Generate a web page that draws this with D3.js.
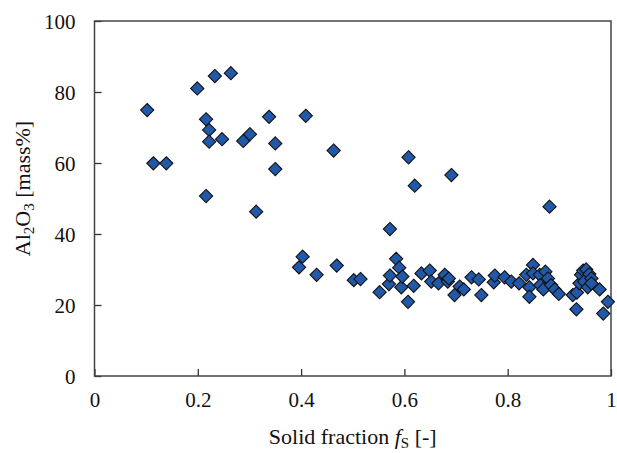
<!DOCTYPE html>
<html>
<head>
<meta charset="utf-8">
<script src="https://cdn.jsdelivr.net/npm/d3@7"></script>
<style>
  body { margin: 0; background: #fff; }
  svg text { font-family: "Liberation Serif", "DejaVu Serif", "Times New Roman", serif !important; fill: #111; }
</style>
</head>
<body>
<svg id="chart" width="617" height="453"></svg>
<script>
// solid fraction fS and Al2O3 content (mass%)
const fsValues = [
  0.102, 0.114, 0.139, 0.199, 0.216, 0.216, 0.222, 0.222, 0.233, 0.247,
  0.264, 0.288, 0.301, 0.313, 0.338, 0.350, 0.350, 0.396, 0.403, 0.409,
  0.430, 0.463, 0.469, 0.502, 0.515, 0.552, 0.570, 0.572, 0.572, 0.584,
  0.590, 0.594, 0.596, 0.607, 0.608, 0.618, 0.620, 0.633, 0.649, 0.652,
  0.666, 0.678, 0.684, 0.686, 0.691, 0.697, 0.707, 0.715, 0.730, 0.744,
  0.749, 0.773, 0.775, 0.794, 0.807, 0.822, 0.836, 0.842, 0.842, 0.849,
  0.849, 0.862, 0.863, 0.869, 0.873, 0.878, 0.881, 0.884, 0.891, 0.899,
  0.926, 0.933, 0.934, 0.939, 0.942, 0.946, 0.948, 0.952, 0.955, 0.958,
  0.962, 0.962, 0.978, 0.985, 0.994
];
const al2o3Values = [
  74.9, 59.9, 59.9, 81.0, 72.3, 50.7, 69.3, 66.0, 84.5, 66.7,
  85.3, 66.2, 68.1, 46.3, 73.0, 65.5, 58.3, 30.6, 33.6, 73.3,
  28.5, 63.5, 31.1, 27.0, 27.3, 23.6, 25.9, 41.4, 28.3, 33.0,
  30.5, 25.0, 28.0, 20.9, 61.6, 25.4, 53.6, 28.9, 29.7, 26.6,
  26.1, 28.5, 26.6, 27.5, 56.6, 22.8, 25.2, 24.4, 27.8, 27.2,
  22.8, 26.4, 28.3, 27.8, 26.6, 26.1, 28.5, 25.0, 22.3, 31.3,
  28.9, 28.5, 25.6, 24.4, 29.4, 27.5, 47.7, 25.6, 24.4, 23.1,
  22.8, 18.8, 23.5, 26.1, 28.5, 29.7, 26.6, 30.0, 25.0, 28.7,
  27.5, 26.1, 24.4, 17.6, 20.9
];
const xTicks = [0, 0.2, 0.4, 0.6, 0.8, 1];
const yTicks = [0, 20, 40, 60, 80, 100];

const points = fsValues.map((f, i) => ({ fs: f, al: al2o3Values[i] }));

const svg = d3.select("#chart");
const margin = { left: 94.5, right: 6, top: 21, bottom: 77 };
const width = 617 - margin.left - margin.right;
const height = 453 - margin.top - margin.bottom;

const x = d3.scaleLinear().domain([0, 1]).range([0, width]);
const y = d3.scaleLinear().domain([0, 100]).range([height, 0]);

const g = svg.append("g").attr("transform", `translate(${margin.left},${margin.top})`);

// ticks point inward
const xAxis = g.append("g")
    .attr("transform", `translate(0,${height})`)
    .call(d3.axisBottom(x).tickValues(xTicks).tickSize(-7).tickPadding(16)
        .tickFormat(d => d3.format("~g")(d)));
const yAxis = g.append("g")
    .call(d3.axisLeft(y).tickValues(yTicks).tickSize(-7).tickPadding(19));

[xAxis, yAxis].forEach(a => {
    a.attr("font-family", null);
    a.select(".domain").remove();
    a.selectAll("line").attr("stroke", "#333").attr("stroke-width", 1.3);
    a.selectAll("text")
        .style("font-size", "21px")
        .attr("fill", "#111");
});
xAxis.selectAll("text").attr("dy", "0.71em");
yAxis.selectAll("text").attr("dy", "0.35em");

// frame
g.append("rect")
    .attr("x", 0).attr("y", 0)
    .attr("width", width).attr("height", height)
    .attr("fill", "none")
    .attr("stroke", "#444")
    .attr("stroke-width", 1.5);

// diamonds
const r = 6.6;
const diamond = `M0,${-r}L${r},0L0,${r}L${-r},0Z`;
g.append("g").selectAll("path")
    .data(points)
    .join("path")
    .attr("d", diamond)
    .attr("transform", d => `translate(${x(d.fs)},${y(d.al)})`)
    .attr("fill", "#2258a8")
    .attr("stroke", "#111")
    .attr("stroke-width", 1.1);

// axis titles
const xTitle = svg.append("text")
    .attr("x", margin.left + width / 2)
    .attr("y", 444)
    .attr("text-anchor", "middle")
    .style("font-size", "22px");
xTitle.append("tspan").text("Solid fraction ");
xTitle.append("tspan").attr("font-style", "italic").text("f");
xTitle.append("tspan").style("font-size", "15px").attr("dy", 4).text("S");
xTitle.append("tspan").attr("dy", -4).text(" [-]");

const yTitle = svg.append("text")
    .attr("transform", `translate(30,${margin.top + height / 2 - 10}) rotate(-90)`)
    .attr("text-anchor", "middle")
    .style("font-size", "22px");
yTitle.append("tspan").text("Al");
yTitle.append("tspan").style("font-size", "15px").attr("dy", 4).text("2");
yTitle.append("tspan").attr("dy", -4).text("O");
yTitle.append("tspan").style("font-size", "15px").attr("dy", 4).text("3");
yTitle.append("tspan").attr("dy", -4).text(" [mass%]");
</script>
</body>
</html>
